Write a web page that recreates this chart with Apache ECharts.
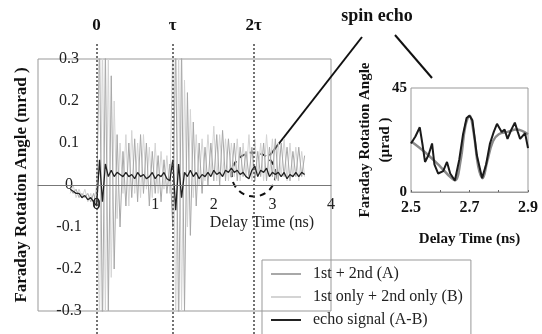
<!DOCTYPE html>
<html>
<head>
<meta charset="utf-8">
<script src="https://cdn.jsdelivr.net/npm/echarts@6/dist/echarts.min.js"></script>
<style>
  html, body { margin: 0; padding: 0; background: #fff; }
  #chart { width: 542px; height: 334px; }
</style>
</head>
<body>
<div id="chart"></div>
<script>
// delay time grid (ns)
var delayTime = [-0.45,-0.40,-0.35,-0.30,-0.25,-0.20,-0.15,-0.10,-0.05,0.00,
  0.05,0.10,0.15,0.20,0.25,0.30,0.35,0.40,0.45,0.50,
  0.55,0.60,0.65,0.70,0.75,0.80,0.85,0.90,0.95,1.00,
  1.05,1.10,1.15,1.20,1.25,1.30,1.35,1.40,1.45,1.50,
  1.55,1.60,1.65,1.70,1.75,1.80,1.85,1.90,1.95,2.00,
  2.05,2.10,2.15,2.20,2.25,2.30,2.35,2.40,2.45,2.50,
  2.55,2.60,2.65,2.70,2.75,2.80,2.85,2.90,2.95,3.00,
  3.05,3.10,3.15,3.20,3.25,3.30,3.35,3.40,3.45,3.50,3.55]

// 1st + 2nd (A)
var signalA = [-0.01,-0.02,-0.01,-0.03,-0.02,-0.03,-0.02,-0.04,-0.02,-0.05,
  0.35,-0.35,0.32,-0.30,0.26,-0.20,0.12,-0.10,0.08,-0.05,
  0.10,-0.03,0.11,-0.04,0.12,-0.02,0.10,-0.05,0.08,-0.02,
  0.07,-0.04,0.06,-0.02,0.05,-0.10,0.35,-0.35,0.33,-0.30,
  0.22,-0.12,0.15,-0.05,0.10,-0.02,0.09,0.00,0.10,0.01,
  0.12,0.00,0.13,0.01,0.11,0.02,0.10,0.01,0.09,0.02,
  0.08,0.02,0.09,0.01,0.08,0.02,0.10,0.01,0.09,0.02,
  0.11,0.01,0.10,0.02,0.09,0.01,0.08,0.02,0.09,0.02,0.07]

// 1st only + 2nd only (B)
var signalB = [-0.02,0.00,-0.03,-0.01,-0.03,-0.01,-0.04,-0.02,-0.05,0.00,
  -0.33,0.34,-0.30,0.30,-0.22,0.20,-0.08,0.10,-0.02,0.12,
  -0.05,0.13,-0.02,0.10,-0.03,0.12,-0.01,0.09,-0.03,0.10,
  -0.02,0.08,-0.01,0.07,-0.02,0.34,-0.34,0.32,-0.30,0.25,
  -0.10,0.18,-0.03,0.12,0.00,0.11,0.01,0.12,0.02,0.14,
  0.01,0.12,0.02,0.11,0.01,0.10,0.02,0.11,0.01,0.10,
  0.02,0.12,0.01,0.11,0.02,0.10,0.01,0.12,0.02,0.11,
  0.01,0.10,0.02,0.11,0.01,0.10,0.02,0.09,0.01,0.08,0.02]

// echo signal (A-B)
var signalEcho = [-0.01,-0.015,-0.02,-0.02,-0.03,-0.025,-0.035,-0.03,-0.04,-0.05,
  0.06,-0.04,0.05,0.02,0.035,0.02,0.03,0.025,0.02,0.03,
  0.02,0.025,0.015,0.03,0.02,0.025,0.015,0.02,0.03,0.015,
  0.025,0.02,0.03,0.015,0.01,0.06,-0.06,0.05,-0.03,0.03,
  0.02,0.035,0.02,0.03,0.015,0.025,0.02,0.03,0.02,0.035,
  0.025,0.03,0.02,0.035,0.03,0.04,0.03,0.035,0.025,0.03,
  0.02,0.015,0.035,0.045,0.02,0.035,0.03,0.04,0.02,0.03,
  0.025,0.03,0.02,0.03,0.015,0.025,0.02,0.03,0.02,0.03,0.025]

// pulse positions: 0, tau, 2 tau
var pulseNames = ['0', 'τ', '2τ']
var pulseTimes = [0, 1.3, 2.68]

// x tick labels of the main plot (the -1 tick is left blank)
var timeTicks = ['', '0', '1', '2', '3', '4']

// inset: spin echo, micro rad
var insetTime = [2.5,2.515,2.53,2.54,2.548,2.56,2.572,2.58,2.593,2.61,2.623,2.634,2.65,2.665,2.678,2.69,2.70,2.71,2.725,2.743,2.757,2.77,2.783,2.794,2.81,2.82,2.83,2.843,2.855,2.865,2.873,2.89,2.9]
var insetEcho = [21,24,28,20,13,16,21,12,8,9,13,8,5,14,25,32,33,31,16,6,12,21,26,29.5,26,27,23,27,30,26,23,25.5,19]
var fitTime = [2.5,2.55,2.6,2.63,2.65,2.67,2.685,2.70,2.715,2.73,2.745,2.76,2.78,2.8,2.83,2.86,2.9]
var fitValue = [22,17,11,7,5,14,28,33,25,11,6,13,22,25,26,27,25]

function pairs(xs, ys) {
  var out = []
  for (var i = 0; i < xs.length; i++) out.push([xs[i], ys[i]])
  return out
}

var serif = 'Liberation Serif'
var myChart = echarts.init(document.getElementById('chart'))

myChart.setOption({
  backgroundColor: '#fff',
  animation: false,
  textStyle: { fontFamily: serif },
  legend: {
    orient: 'vertical',
    left: 262, top: 260, height: 90,
    padding: [6, 8, 12, 8],
    itemWidth: 30, itemHeight: 14, itemGap: 7,
    borderColor: '#999', borderWidth: 1,
    itemStyle: { opacity: 0 },
    data: ['1st + 2nd (A)', '1st only + 2nd only (B)', 'echo signal (A-B)'],
    textStyle: { fontFamily: serif, fontSize: 16, color: '#222', padding: [0, 0, 0, 7] }
  },
  grid: [
    { left: 38, right: 211, top: 59, bottom: 23, show: true, borderColor: '#999', borderWidth: 1 },
    { left: 411, right: 14, top: 88, bottom: 142, show: true, borderColor: '#999', borderWidth: 1 },
    { left: 38, right: 211, top: 42, bottom: 0 }
  ],
  xAxis: [
    {
      gridIndex: 0, type: 'value', min: -1, max: 4, interval: 1, z: 10,
      position: 'bottom', offset: -126,
      axisLine: { onZero: false, lineStyle: { color: '#777' } },
      axisTick: { show: false },
      splitLine: { show: false },
      axisLabel: {
        margin: 12, fontSize: 16, color: '#222', fontFamily: serif, hideOverlap: false,
        showMinLabel: true, showMaxLabel: true,
        formatter: function (v) { return timeTicks[Math.round(v) + 1] || '' }
      }
    },
    {
      gridIndex: 1, type: 'value', min: 2.5, max: 2.9, interval: 0.1,
      name: 'Delay Time (ns)', nameLocation: 'middle', nameGap: 40,
      nameTextStyle: { fontFamily: serif, fontWeight: 'bold', fontSize: 15, color: '#111' },
      axisLine: { onZero: false, lineStyle: { color: '#999' } },
      axisTick: { inside: true, length: 2, lineStyle: { color: '#666' } },
      splitLine: { show: false },
      axisLabel: {
        margin: 8, fontSize: 16, fontWeight: 'bold', color: '#111', fontFamily: serif,
        formatter: function (v) {
          var s = v.toFixed(1)
          return (s === '2.5' || s === '2.7' || s === '2.9') ? s : ''
        }
      }
    },
    { gridIndex: 2, type: 'value', min: -1, max: 4, show: false }
  ],
  yAxis: [
    {
      gridIndex: 0, type: 'value', min: -0.3, max: 0.3, interval: 0.1,
      name: 'Faraday Rotation Angle (mrad )', nameLocation: 'middle', nameGap: 8,
      nameMoveOverlap: false,
      nameTextStyle: { fontFamily: serif, fontWeight: 'bold', fontSize: 17, color: '#111' },
      axisLine: { show: false, onZero: false },
      axisTick: { show: false },
      splitLine: { show: false },
      axisLabel: {
        inside: true, margin: 31, align: 'center', fontSize: 16, color: '#222', fontFamily: serif,
        formatter: function (v) { return Math.abs(v) < 1e-9 ? '0' : v.toFixed(1) }
      }
    },
    {
      gridIndex: 1, type: 'value', min: 0, max: 45, interval: 45,
      name: 'Faraday Rotation Angle\n(µrad )', nameLocation: 'middle', nameGap: 16,
      nameMoveOverlap: false,
      nameTextStyle: { fontFamily: serif, fontWeight: 'bold', fontSize: 15, color: '#111', lineHeight: 20 },
      axisLine: { show: false, onZero: false },
      axisTick: { show: false },
      splitLine: { show: false },
      axisLabel: { margin: 4, fontSize: 15, fontWeight: 'bold', color: '#111', fontFamily: serif }
    },
    { gridIndex: 2, type: 'value', min: 0, max: 1, show: false }
  ],
  series: [
    {
      name: '1st only + 2nd only (B)', type: 'line', xAxisIndex: 0, yAxisIndex: 0,
      data: pairs(delayTime, signalB), symbol: 'none', color: '#b8b8b8',
      itemStyle: { opacity: 0 },
      lineStyle: { width: 1, color: '#d4d4d4' }
    },
    {
      name: '1st + 2nd (A)', type: 'line', xAxisIndex: 0, yAxisIndex: 0,
      data: pairs(delayTime, signalA), symbol: 'none', color: '#909090',
      itemStyle: { opacity: 0 },
      lineStyle: { width: 1, color: '#a8a8a8' }
    },
    {
      name: 'echo signal (A-B)', type: 'line', xAxisIndex: 0, yAxisIndex: 0,
      data: pairs(delayTime, signalEcho), symbol: 'none', color: '#1a1a1a',
      itemStyle: { opacity: 0 },
      lineStyle: { width: 1.3, color: '#222' }
    },
    {
      type: 'line', xAxisIndex: 1, yAxisIndex: 1,
      data: pairs(fitTime, fitValue), symbol: 'none', smooth: 0.4,
      lineStyle: { width: 2.5, color: '#8a8a8a' }
    },
    {
      type: 'line', xAxisIndex: 1, yAxisIndex: 1,
      data: pairs(insetTime, insetEcho), symbol: 'none',
      lineStyle: { width: 2, color: '#1a1a1a' }
    },
    {
      type: 'line', xAxisIndex: 2, yAxisIndex: 2,
      data: [[-1, 0]], symbol: 'none', lineStyle: { opacity: 0 },
      markLine: {
        silent: true, symbol: ['none', 'none'],
        lineStyle: { type: [2, 2], width: 1.5, color: '#444' },
        label: {
          show: true, position: 'end', distance: 8,
          fontFamily: serif, fontWeight: 'bold', fontSize: 17, color: '#111',
          formatter: function (p) { return p.name }
        },
        data: pulseTimes.map(function (t, i) { return { name: pulseNames[i], xAxis: t } })
      }
    }
  ]
})

// annotations: dashed circle around the echo, pointer lines, title
var c = myChart.convertToPixel({ gridIndex: 0 }, [2.68, 0.025])
// the axis drops its label at the origin tick, so put that one back
var o = myChart.convertToPixel({ gridIndex: 0 }, [0, 0])
myChart.setOption({
  graphic: [
    {
      type: 'circle', shape: { cx: c[0], cy: c[1], r: 22 },
      style: { fill: 'none', stroke: '#111', lineWidth: 2, lineDash: [6, 5] }
    },
    {
      type: 'line', shape: { x1: c[0] + 16, y1: c[1] - 19, x2: 362, y2: 37 },
      style: { stroke: '#111', lineWidth: 2 }
    },
    {
      type: 'line', shape: { x1: 395, y1: 35, x2: 432, y2: 78 },
      style: { stroke: '#111', lineWidth: 2 }
    },
    {
      type: 'text', x: o[0], y: o[1] + 12, z: 20,
      style: { text: timeTicks[1], font: '16px "Liberation Serif"', fill: '#222', align: 'center', verticalAlign: 'top' }
    },
    {
      type: 'text', x: 377, y: 16,
      style: { text: 'spin echo', font: 'bold 18px "Liberation Serif"', fill: '#111', align: 'center', verticalAlign: 'middle' }
    },
    {
      type: 'text', x: 262, y: 223,
      style: { text: 'Delay Time (ns)', font: '16px "Liberation Serif"', fill: '#222', align: 'center', verticalAlign: 'middle' }
    }
  ]
})
</script>
</body>
</html>
